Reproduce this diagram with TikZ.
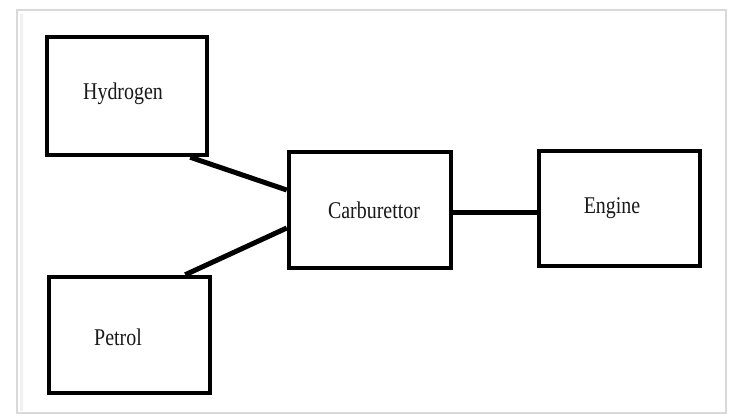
\documentclass[tikz,border=0pt]{standalone}
\usepackage{fontspec}
\setmainfont{Liberation Serif}[FakeStretch=0.83]
\begin{document}
\begin{tikzpicture}[x=1pt,y=-1pt,
  blk/.style={draw=black, line width=4.5pt, inner sep=0pt, fill=white},
  lbl/.style={font=\fontsize{24}{28}\selectfont, text=black!90, inner sep=0pt},
  conn/.style={draw=black, line width=5pt}]
\useasboundingbox (0,0) rectangle (733,420);
\fill[white] (0,0) rectangle (733,420);
\draw[gray!30, line width=1.5pt] (17,10) rectangle (726,413);
\draw[gray!12, line width=3pt] (21,14) -- (21,411);
\node[blk, minimum width=160pt, minimum height=118pt] (H) at (127,96) {};
\node[blk, minimum width=162pt, minimum height=116pt] (C) at (370,210) {};
\node[blk, minimum width=161pt, minimum height=115pt] (E) at (619.5,208.5) {};
\node[blk, minimum width=161pt, minimum height=116pt] (P) at (129.5,335) {};
\node[lbl] (Ht) at (123,94) {Hydrogen};
\node[lbl] (Ct) at (374,210) {Carburettor};
\node[lbl] (Et) at (612,208) {Engine};
\node[lbl] (Pt) at (118,337) {Petrol};
\draw[conn] ([xshift=-19pt]H.south east) -- ([yshift=20pt]C.west);
\draw[conn] ([xshift=-27pt]P.north east) -- ([yshift=-18pt]C.west);
\draw[conn] ([yshift=-2pt]C.east) -- ([yshift=-2pt]C.east -| E.west);
\end{tikzpicture}
\end{document}
